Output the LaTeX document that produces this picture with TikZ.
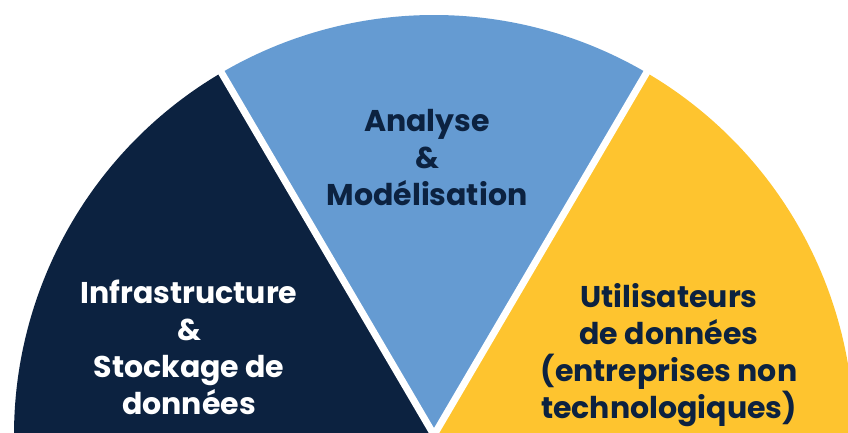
\documentclass[tikz,border=0pt]{standalone}
\usepackage{fontspec}
\setmainfont{Poppins}
\usepackage{tikz}
\usetikzlibrary{calc}
\definecolor{navyfond}{HTML}{0C2240}
\definecolor{bleufond}{HTML}{659BD2}
\definecolor{jaunefond}{HTML}{FEC42F}
\tikzset{
  secteur/.style={line width=0pt},
  gap/.style={draw=white, line width=7pt},
  titre/.style={align=center, font=\fontsize{30}{37}\selectfont\bfseries},
  titreclair/.style={titre, text=white},
  titrefonce/.style={titre, text=navyfond}
}
\begin{document}
\begin{tikzpicture}[x=1pt,y=1pt]
  \useasboundingbox (0,0) rectangle (848,433);
  \coordinate (O) at (434,-2);
  \def\R{420}
  % three sectors of the half disc
  \fill[secteur, jaunefond] (O) -- ++(0:\R) arc (0:60:\R) -- cycle;
  \fill[secteur, bleufond] (O) -- ++(60:\R) arc (60:120:\R) -- cycle;
  \fill[secteur, navyfond] (O) -- ++(120:\R) arc (120:180:\R) -- cycle;
  % white separations
  \coordinate (S1) at ($(O)+(59.6:\R+10)$);
  \coordinate (S2) at ($(O)+(120.4:\R+10)$);
  \draw[gap] (O) -- (S1);
  \draw[gap] (O) -- (S2);
  \node[titreclair] (infra) at (189,86) {Infrastructure\\\&\\Stockage de\\données};
  \node[titrefonce] (analyse) at (427,275) {Analyse\\\&\\Modélisation};
  \node[titrefonce] (usagers) at (669,78) {Utilisateurs\\de données\\(entreprises non\\technologiques)};
\end{tikzpicture}
\end{document}
